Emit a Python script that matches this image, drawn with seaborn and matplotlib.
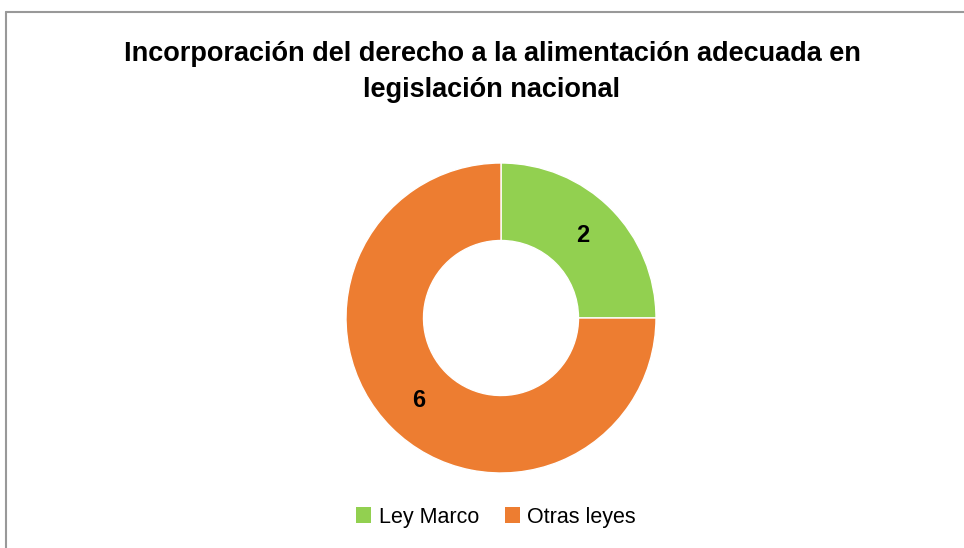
import matplotlib
matplotlib.use("Agg")
import matplotlib.pyplot as plt
from matplotlib.lines import Line2D
from matplotlib.patches import Patch
import seaborn as sns

title = "Incorporación del derecho a la alimentación adecuada en\nlegislación nacional"
categories = ["Ley Marco", "Otras leyes"]
values = [2, 6]
colors = ["#92D050", "#ED7D31"]

sns.set_theme(style="white")
plt.rcParams["font.family"] = ["Liberation Sans Narrow", "Liberation Sans", "DejaVu Sans"]

W, H = 964, 548
fig = plt.figure(figsize=(W / 100, H / 100), dpi=100)
fig.patch.set_facecolor("white")

# donut: center (501, 318) px, outer radius 155 px; pie limits are +-1.25
cx, cy, r = 501, 318, 155
half = r * 1.25
ax = fig.add_axes([(cx - half) / W, (H - cy - half) / H, 2 * half / W, 2 * half / H])

wedges, texts, autotexts = ax.pie(
    values,
    colors=colors,
    startangle=90,
    counterclock=False,
    wedgeprops=dict(width=0.5, edgecolor="white", linewidth=1),
    autopct=lambda p: f"{round(p * sum(values) / 100):d}",
    pctdistance=0.75,
    textprops=dict(fontsize=17, fontweight="bold", color="black"),
)
ax.set_xlim(-1.25, 1.25)
ax.set_ylim(-1.25, 1.25)
ax.set_aspect("equal")

fig.text(492 / W, 1 - 72 / H, title, ha="center", va="center",
         fontsize=19.5, fontweight="bold", color="black", linespacing=1.5)

handles = [Patch(facecolor=c, edgecolor="none", label=l) for c, l in zip(colors, categories)]
leg = fig.legend(handles=handles, loc="center", bbox_to_anchor=(496 / W, 1 - 517 / H),
                 ncol=2, frameon=False, fontsize=15.5, handlelength=0.7, handleheight=0.7,
                 handletextpad=0.35, columnspacing=1.2)
for t in leg.get_texts():
    t.set_color("black")

# chart area border (top and left visible)
fig.add_artist(Line2D([6 / W, 1], [1 - 12 / H, 1 - 12 / H], color="#999999", lw=1.5))
fig.add_artist(Line2D([6 / W, 6 / W], [0, 1 - 12 / H], color="#999999", lw=1.5))

fig.savefig("out.png", dpi=100, facecolor="white")
